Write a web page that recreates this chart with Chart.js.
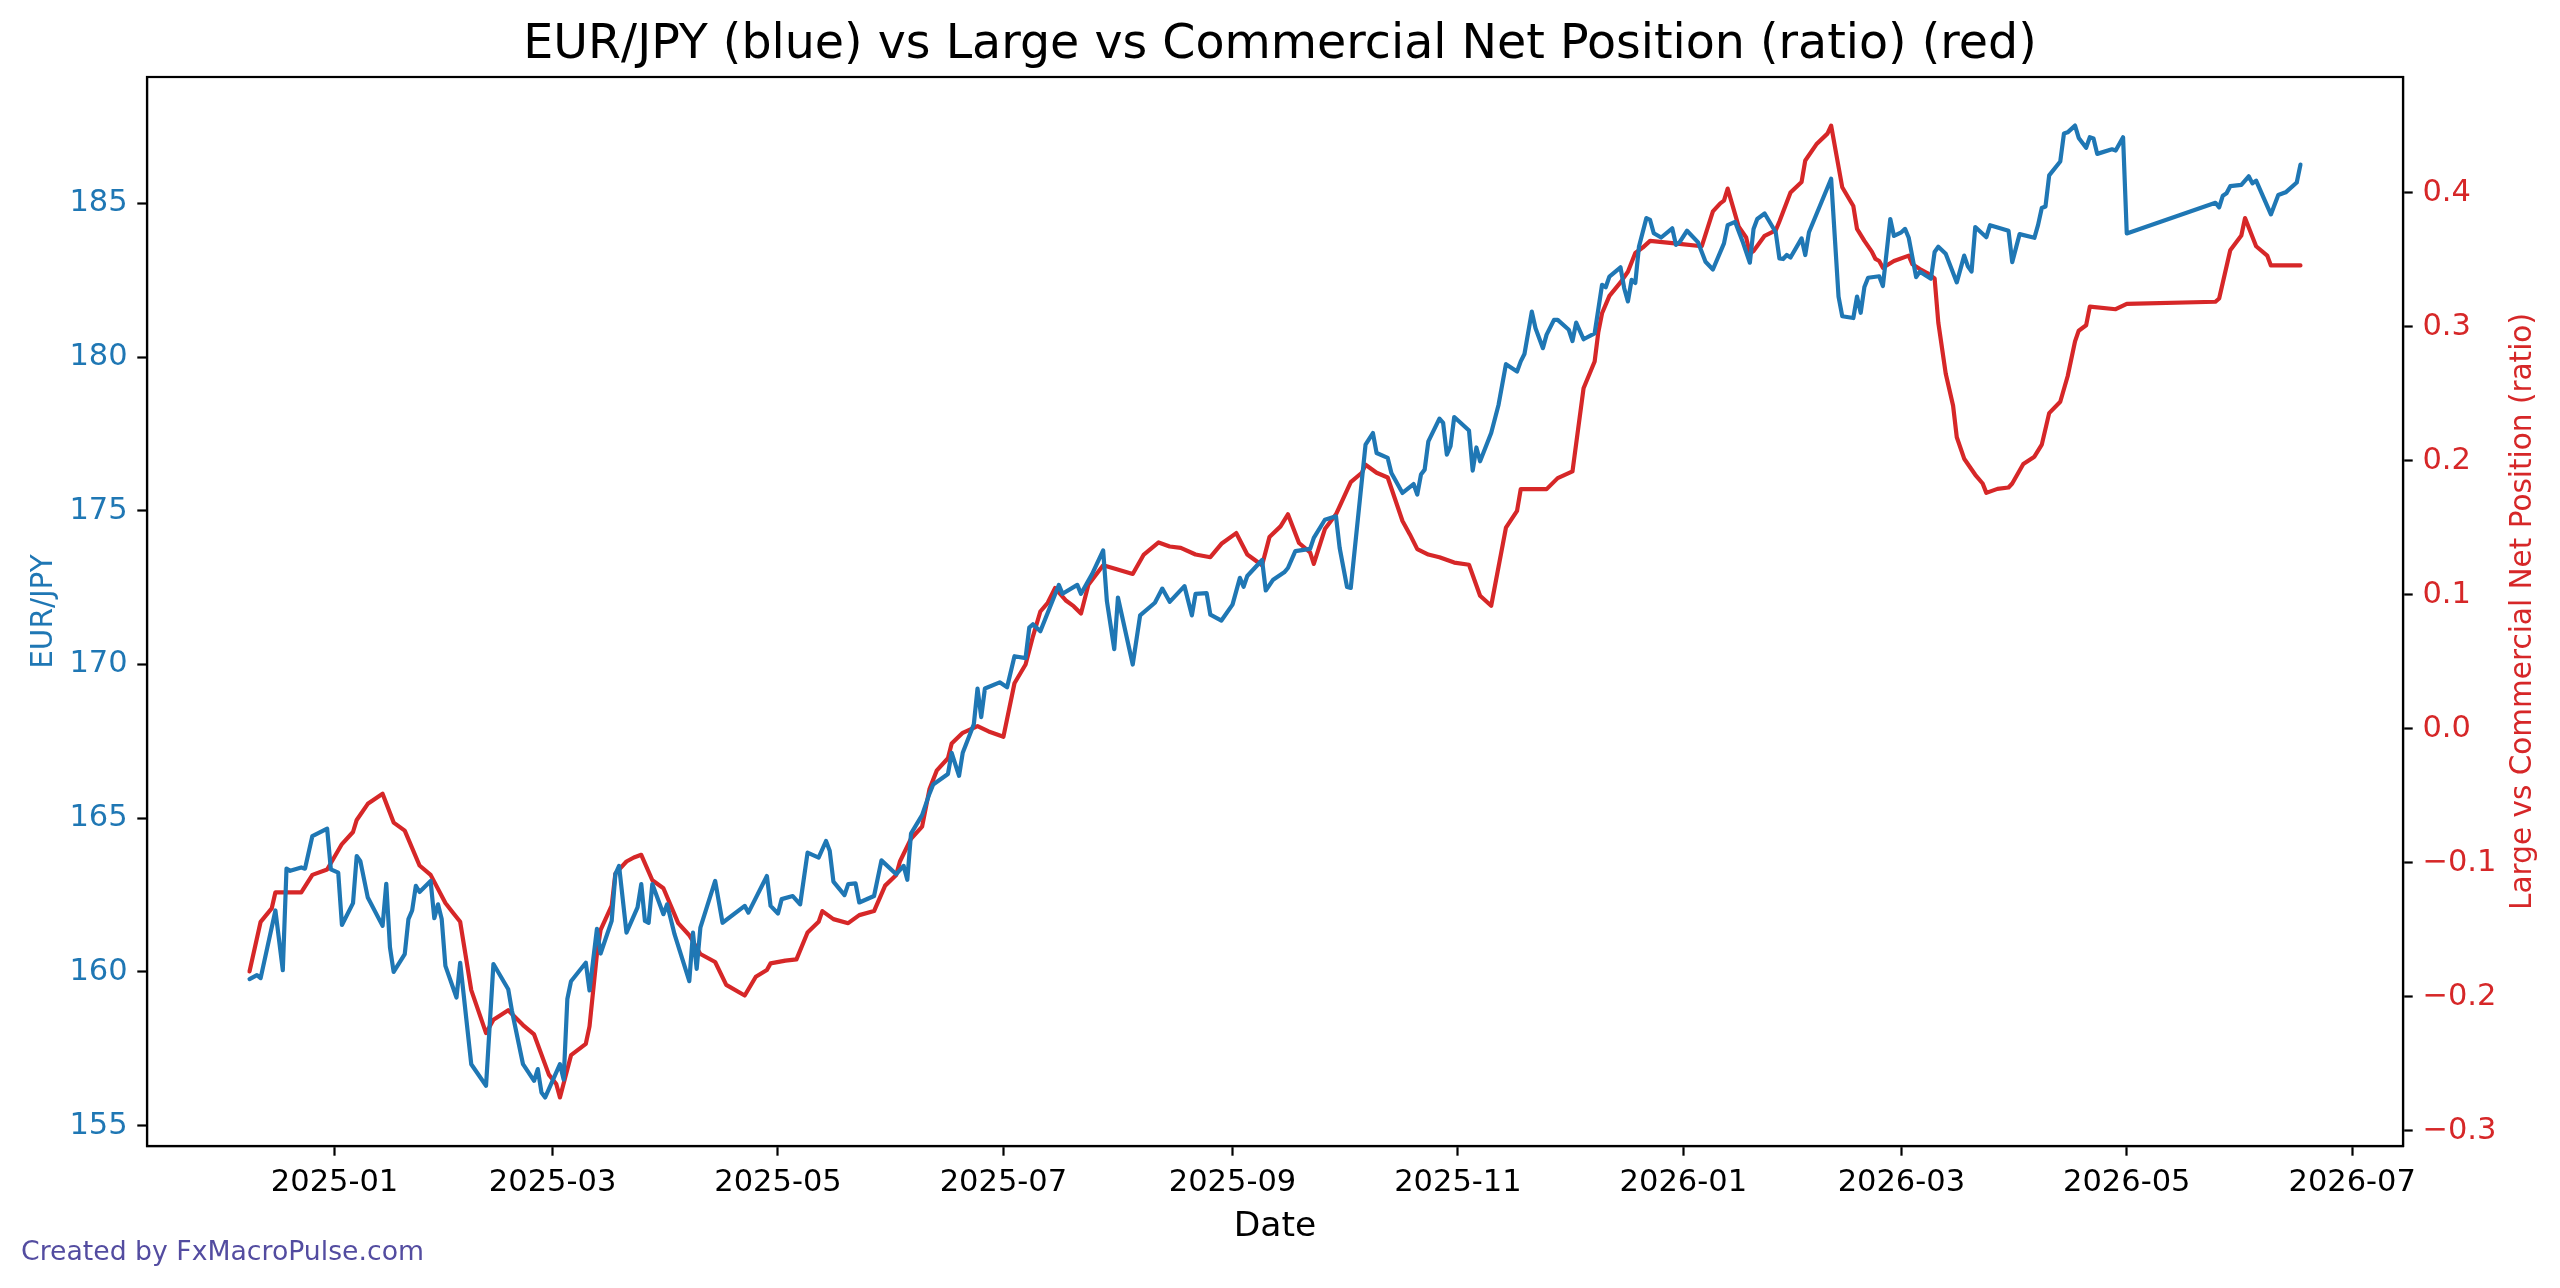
<!DOCTYPE html>
<html>
<head>
<meta charset="utf-8">
<script src="https://cdn.jsdelivr.net/npm/chart.js@4.4.1/dist/chart.umd.min.js"></script>
<style>
html,body{margin:0;padding:0;background:#fff;overflow:hidden;}
canvas{display:block;}
</style>
</head>
<body>
<canvas id="c" width="2560" height="1288"></canvas>
<script>
// ---------- DATA ----------
const chartTitle = 'EUR/JPY (blue) vs Large vs Commercial Net Position (ratio) (red)';
const xAxisTitle = 'Date';
const leftAxisTitle = 'EUR/JPY';
const rightAxisTitle = 'Large vs Commercial Net Position (ratio)';
const watermark = 'Created by FxMacroPulse.com';

const xTickLabels = ['2025-01','2025-03','2025-05','2025-07','2025-09','2025-11','2026-01','2026-03','2026-05','2026-07'];
const leftTicks = [155,160,165,170,175,180,185];
const rightTicks = [-0.3,-0.2,-0.1,0.0,0.1,0.2,0.3,0.4];

const blueDates = [
'2024-12-09','2024-12-11','2024-12-12','2024-12-16','2024-12-18','2024-12-19','2024-12-20','2024-12-23','2024-12-24','2024-12-26',
'2024-12-30','2024-12-31','2025-01-02','2025-01-03','2025-01-06','2025-01-07','2025-01-08','2025-01-10','2025-01-14','2025-01-15',
'2025-01-16','2025-01-17','2025-01-20','2025-01-21','2025-01-22','2025-01-23','2025-01-24','2025-01-27','2025-01-28','2025-01-29',
'2025-01-30','2025-01-31','2025-02-03','2025-02-04','2025-02-07','2025-02-11','2025-02-13','2025-02-17','2025-02-18','2025-02-21',
'2025-02-24','2025-02-25','2025-02-26','2025-02-27','2025-03-03','2025-03-04','2025-03-05','2025-03-06','2025-03-10','2025-03-11',
'2025-03-13','2025-03-14','2025-03-17','2025-03-18','2025-03-19','2025-03-21','2025-03-24','2025-03-25','2025-03-26','2025-03-27',
'2025-03-28','2025-03-31','2025-04-01','2025-04-03','2025-04-07','2025-04-08','2025-04-09','2025-04-10','2025-04-14','2025-04-16',
'2025-04-22','2025-04-23','2025-04-28','2025-04-29','2025-05-01','2025-05-02','2025-05-05','2025-05-07','2025-05-09','2025-05-12',
'2025-05-14','2025-05-15','2025-05-16','2025-05-19','2025-05-20','2025-05-22','2025-05-23','2025-05-27','2025-05-29','2025-06-02',
'2025-06-04','2025-06-05','2025-06-06','2025-06-09','2025-06-11','2025-06-12','2025-06-16','2025-06-17','2025-06-19','2025-06-20',
'2025-06-23','2025-06-24','2025-06-25','2025-06-26','2025-06-30','2025-07-02','2025-07-04','2025-07-07','2025-07-08','2025-07-09',
'2025-07-11','2025-07-16','2025-07-17','2025-07-21','2025-07-22','2025-07-25','2025-07-28','2025-07-29','2025-07-31','2025-08-01',
'2025-08-05','2025-08-07','2025-08-11','2025-08-13','2025-08-15','2025-08-19','2025-08-21','2025-08-22','2025-08-25','2025-08-26',
'2025-08-29','2025-09-01','2025-09-03','2025-09-04','2025-09-05','2025-09-09','2025-09-10','2025-09-12','2025-09-15','2025-09-16',
'2025-09-18','2025-09-22','2025-09-23','2025-09-26','2025-09-29','2025-09-30','2025-10-02','2025-10-03','2025-10-07','2025-10-09',
'2025-10-10','2025-10-13','2025-10-14','2025-10-17','2025-10-20','2025-10-21','2025-10-22','2025-10-23','2025-10-24','2025-10-27',
'2025-10-28','2025-10-29','2025-10-30','2025-10-31','2025-11-04','2025-11-05','2025-11-06','2025-11-07','2025-11-10','2025-11-12',
'2025-11-14','2025-11-17','2025-11-18','2025-11-19','2025-11-21','2025-11-22','2025-11-24','2025-11-25','2025-11-27','2025-11-28',
'2025-12-01','2025-12-02','2025-12-03','2025-12-05','2025-12-08','2025-12-10','2025-12-11','2025-12-12','2025-12-15','2025-12-16',
'2025-12-17','2025-12-18','2025-12-19','2025-12-20','2025-12-22','2025-12-23','2025-12-24','2025-12-26','2025-12-29','2025-12-30',
'2025-12-31','2026-01-02','2026-01-05','2026-01-07','2026-01-09','2026-01-12','2026-01-13','2026-01-15','2026-01-17','2026-01-19',
'2026-01-20','2026-01-21','2026-01-23','2026-01-26','2026-01-27','2026-01-28','2026-01-29','2026-01-30','2026-02-02','2026-02-03',
'2026-02-04','2026-02-10','2026-02-12','2026-02-13','2026-02-16','2026-02-17','2026-02-18','2026-02-19','2026-02-20','2026-02-23',
'2026-02-24','2026-02-26','2026-02-27','2026-03-01','2026-03-02','2026-03-03','2026-03-05','2026-03-06','2026-03-09','2026-03-10',
'2026-03-11','2026-03-13','2026-03-16','2026-03-18','2026-03-19','2026-03-20','2026-03-21','2026-03-24','2026-03-25','2026-03-30',
'2026-03-31','2026-04-02','2026-04-06','2026-04-07','2026-04-08','2026-04-09','2026-04-10','2026-04-13','2026-04-14','2026-04-15',
'2026-04-17','2026-04-18','2026-04-20','2026-04-21','2026-04-22','2026-04-23','2026-04-27','2026-04-28','2026-04-30','2026-05-01',
'2026-05-25','2026-05-26','2026-05-27','2026-05-28','2026-05-29','2026-06-01','2026-06-03','2026-06-04','2026-06-05','2026-06-09',
'2026-06-11','2026-06-13','2026-06-16','2026-06-17'
];
const blueValues = [
159.77,159.90,159.80,162.00,160.06,163.36,163.29,163.40,163.36,164.42,
164.66,163.34,163.23,161.53,162.24,163.77,163.60,162.42,161.50,162.87,
160.80,160.00,160.58,161.72,162.00,162.80,162.60,162.96,161.75,162.20,
161.72,160.20,159.17,160.30,157.00,156.30,160.26,159.44,158.74,157.00,
156.46,156.84,156.08,155.92,157.00,156.50,159.12,159.70,160.30,159.40,
161.40,160.60,161.66,163.18,163.45,161.28,162.10,162.86,161.66,161.60,
162.86,161.88,162.20,161.23,159.70,161.28,160.10,161.44,162.96,161.60,
162.15,161.93,163.12,162.15,161.90,162.37,162.47,162.20,163.88,163.72,
164.26,163.94,162.94,162.50,162.86,162.88,162.26,162.47,163.63,163.18,
163.45,163.00,164.50,165.10,165.80,166.10,166.44,167.13,166.38,167.13,
168.06,169.22,168.29,169.22,169.42,169.26,170.27,170.21,171.20,171.31,
171.08,172.59,172.30,172.59,172.30,172.94,173.71,172.07,170.50,172.18,
170.00,171.60,172.01,172.47,172.04,172.55,171.60,172.30,172.32,171.62,
171.43,171.95,172.82,172.53,172.88,173.40,172.41,172.76,173.00,173.14,
173.69,173.76,174.12,174.71,174.82,173.79,172.52,172.49,177.15,177.53,
176.88,176.72,176.23,175.58,175.87,175.53,176.18,176.34,177.26,178.00,
177.86,176.83,177.10,178.05,177.61,176.31,177.06,176.61,177.53,178.45,
179.77,179.53,179.86,180.10,181.48,180.94,180.29,180.73,181.21,181.21,
180.89,180.52,181.12,180.58,180.77,182.35,182.27,182.62,182.92,182.24,
181.81,182.51,182.41,183.60,184.52,184.46,184.03,183.89,184.19,183.65,
183.74,184.11,183.73,183.10,182.85,183.70,184.29,184.40,183.77,183.07,
184.17,184.49,184.67,184.06,183.21,183.19,183.32,183.24,183.86,183.32,
184.06,185.80,181.97,181.33,181.27,181.97,181.44,182.28,182.58,182.63,
182.31,184.49,183.94,184.06,184.17,183.88,182.60,182.78,182.55,183.42,
183.59,183.36,182.43,183.30,182.95,182.78,184.23,183.90,184.29,184.11,
183.09,184.00,183.88,184.30,184.85,184.90,185.91,186.36,187.27,187.31,
187.53,187.13,186.81,187.15,187.11,186.61,186.76,186.72,187.15,184.02,
185.02,184.87,185.25,185.33,185.56,185.60,185.88,185.65,185.74,184.64,
185.27,185.36,185.68,186.26
];

const redDates = [
'2024-12-09','2024-12-12','2024-12-15','2024-12-16','2024-12-23','2024-12-26','2024-12-30','2025-01-03','2025-01-06','2025-01-07',
'2025-01-10','2025-01-14','2025-01-17','2025-01-20','2025-01-24','2025-01-27','2025-01-31','2025-02-02','2025-02-04','2025-02-07',
'2025-02-09','2025-02-11','2025-02-13','2025-02-17','2025-02-21','2025-02-24','2025-02-28','2025-03-02','2025-03-03','2025-03-06',
'2025-03-10','2025-03-11','2025-03-13','2025-03-14','2025-03-17','2025-03-18','2025-03-21','2025-03-23','2025-03-25','2025-03-28',
'2025-03-31','2025-04-04','2025-04-07','2025-04-10','2025-04-14','2025-04-17','2025-04-22','2025-04-25','2025-04-28','2025-04-29',
'2025-05-03','2025-05-06','2025-05-09','2025-05-12','2025-05-13','2025-05-16','2025-05-20','2025-05-23','2025-05-27','2025-05-30',
'2025-06-02','2025-06-03','2025-06-06','2025-06-09','2025-06-10','2025-06-11','2025-06-13','2025-06-16','2025-06-17','2025-06-20',
'2025-06-24','2025-06-27','2025-07-01','2025-07-04','2025-07-07','2025-07-09','2025-07-11','2025-07-13','2025-07-15','2025-07-18',
'2025-07-20','2025-07-22','2025-07-24','2025-07-28','2025-07-31','2025-08-05','2025-08-08','2025-08-12','2025-08-15','2025-08-18',
'2025-08-22','2025-08-26','2025-08-29','2025-09-02','2025-09-05','2025-09-09','2025-09-11','2025-09-14','2025-09-16','2025-09-19',
'2025-09-22','2025-09-23','2025-09-26','2025-09-29','2025-10-03','2025-10-06','2025-10-07','2025-10-10','2025-10-13','2025-10-17',
'2025-10-19','2025-10-21','2025-10-24','2025-10-27','2025-10-31','2025-11-04','2025-11-07','2025-11-10','2025-11-14','2025-11-17',
'2025-11-18','2025-11-25','2025-11-28','2025-12-02','2025-12-05','2025-12-08','2025-12-09','2025-12-10','2025-12-12','2025-12-15',
'2025-12-17','2025-12-19','2025-12-21','2025-12-23','2025-12-31','2026-01-06','2026-01-09','2026-01-11','2026-01-12','2026-01-13',
'2026-01-16','2026-01-18','2026-01-19','2026-01-20','2026-01-23','2026-01-26','2026-01-27','2026-01-30','2026-02-02','2026-02-03',
'2026-02-06','2026-02-09','2026-02-10','2026-02-13','2026-02-16','2026-02-17','2026-02-19','2026-02-21','2026-02-22','2026-02-23',
'2026-02-24','2026-02-27','2026-03-03','2026-03-04','2026-03-06','2026-03-08','2026-03-10','2026-03-11','2026-03-13','2026-03-15',
'2026-03-16','2026-03-18','2026-03-21','2026-03-23','2026-03-24','2026-03-27','2026-03-30','2026-03-31','2026-04-03','2026-04-06',
'2026-04-08','2026-04-10','2026-04-13','2026-04-15','2026-04-17','2026-04-18','2026-04-20','2026-04-21','2026-04-28','2026-05-01',
'2026-05-25','2026-05-26','2026-05-29','2026-06-01','2026-06-02','2026-06-05','2026-06-08','2026-06-09','2026-06-17'
];
const redValues = [
-0.181,-0.144,-0.134,-0.122,-0.122,-0.109,-0.105,-0.086,-0.077,-0.068,
-0.056,-0.0485,-0.070,-0.076,-0.102,-0.109,-0.130,-0.137,-0.144,-0.195,
-0.211,-0.227,-0.217,-0.210,-0.221,-0.228,-0.258,-0.265,-0.275,-0.2435,
-0.235,-0.222,-0.168,-0.150,-0.132,-0.108,-0.099,-0.096,-0.094,-0.113,
-0.119,-0.145,-0.154,-0.168,-0.174,-0.191,-0.199,-0.185,-0.180,-0.175,
-0.173,-0.172,-0.152,-0.144,-0.136,-0.142,-0.145,-0.139,-0.136,-0.117,
-0.109,-0.099,-0.082,-0.073,-0.059,-0.045,-0.031,-0.022,-0.011,-0.003,
0.002,-0.002,-0.006,0.034,0.048,0.069,0.0875,0.094,0.105,0.0955,
0.0915,0.086,0.1075,0.122,0.1195,0.1155,0.130,0.139,0.136,0.135,
0.130,0.128,0.138,0.146,0.130,0.122,0.143,0.151,0.160,0.1386,
0.1316,0.123,0.149,0.160,0.184,0.191,0.197,0.191,0.1875,0.155,
0.145,0.134,0.130,0.128,0.124,0.1224,0.0993,0.0918,0.150,0.1626,
0.1788,0.1788,0.187,0.192,0.254,0.274,0.296,0.310,0.323,0.333,
0.341,0.355,0.359,0.364,0.3617,0.360,0.386,0.392,0.394,0.403,
0.3745,0.3665,0.3545,0.3564,0.3678,0.3718,0.3785,0.400,0.408,0.424,
0.436,0.444,0.450,0.404,0.390,0.373,0.364,0.356,0.3505,0.349,
0.344,0.349,0.353,0.3465,0.343,0.340,0.336,0.303,0.265,0.241,
0.2175,0.2015,0.1895,0.183,0.176,0.179,0.180,0.183,0.1975,0.203,
0.212,0.2355,0.244,0.263,0.289,0.297,0.301,0.315,0.313,0.317,
0.3186,0.321,0.357,0.368,0.381,0.360,0.353,0.3457,0.3457
];

// ---------- BUILD ----------
const BLUE = '#1f77b4', RED = '#d62728';
const FONT = 'DejaVu Sans';
const toTs = s => { const p = s.split('-').map(Number); return Date.UTC(p[0], p[1]-1, p[2] || 1); };
const bluePts = blueDates.map((d,i) => ({x: toTs(d), y: blueValues[i]}));
const redPts = redDates.map((d,i) => ({x: toTs(d), y: redValues[i]}));
const xTickVals = xTickLabels.map(toTs);

function padRange(vals){ const mn=Math.min(...vals), mx=Math.max(...vals), m=(mx-mn)*0.05; return [mn-m, mx+m]; }
const [xMin, xMax] = padRange([...bluePts, ...redPts].map(p=>p.x));
const [yMin, yMax] = padRange(blueValues);
const [y1Min, y1Max] = padRange(redValues);

const fmtMonth = v => { const d = new Date(v); return d.getUTCFullYear() + '-' + String(d.getUTCMonth()+1).padStart(2,'0'); };

const extras = {
  id: 'extras',
  afterDraw(chart){
    const {ctx, chartArea: a} = chart;
    ctx.save();
    ctx.strokeStyle = '#000'; ctx.lineWidth = 2.2;
    ctx.strokeRect(a.left, a.top, a.right - a.left, a.bottom - a.top);
    // right axis title (reads bottom-to-top)
    ctx.fillStyle = RED;
    ctx.font = '29.5px "' + FONT + '"';
    ctx.textAlign = 'center'; ctx.textBaseline = 'middle';
    ctx.translate(2523, (a.top + a.bottom)/2);
    ctx.rotate(-Math.PI/2);
    ctx.fillText(rightAxisTitle, 0, 0);
    ctx.restore();
    ctx.save();
    ctx.fillStyle = 'rgba(64,56,150,0.9)';
    ctx.font = '26.7px "' + FONT + '"';
    ctx.textAlign = 'left'; ctx.textBaseline = 'middle';
    ctx.fillText(watermark, 21, 1253);
    ctx.restore();
  }
};

Chart.defaults.font.family = FONT;
new Chart(document.getElementById('c').getContext('2d'), {
  type: 'line',
  data: {
    datasets: [
      {label: leftAxisTitle, data: bluePts, borderColor: BLUE, borderWidth: 4.2, pointRadius: 0, tension: 0, fill: false, yAxisID: 'y', borderJoinStyle: 'round', borderCapStyle: 'round'},
      {label: rightAxisTitle, data: redPts, borderColor: RED, borderWidth: 4.2, pointRadius: 0, tension: 0, fill: false, yAxisID: 'y1', borderJoinStyle: 'round', borderCapStyle: 'round'}
    ]
  },
  options: {
    responsive: false, animation: false, devicePixelRatio: 1,
    layout: {padding: 0},
    plugins: {
      legend: {display: false},
      tooltip: {enabled: false},
      title: {display: true, text: chartTitle, color: '#000', font: {family: FONT, size: 47.5, weight: 'normal', lineHeight: 1.2}, padding: {top: 17, bottom: 3}}
    },
    scales: {
      x: {
        type: 'linear', position: 'bottom', min: xMin, max: xMax,
        afterBuildTicks: s => { s.ticks = xTickVals.map(v => ({value: v})); },
        afterFit: s => { s.height = 142; },
        ticks: {autoSkip: false, maxRotation: 0, minRotation: 0, color: '#000', font: {size: 30.5}, padding: 9, callback: v => fmtMonth(v)},
        grid: {drawOnChartArea: false, drawTicks: true, tickLength: 9.7, tickWidth: 2.2, tickColor: '#000'},
        border: {display: true, color: '#000', width: 2.2},
        title: {display: true, text: xAxisTitle, color: '#000', font: {size: 34.5}, padding: {top: 0, bottom: 40}}
      },
      y: {
        type: 'linear', position: 'left', min: yMin, max: yMax,
        afterBuildTicks: s => { s.ticks = leftTicks.map(v => ({value: v})); },
        afterFit: s => { s.width = 147; },
        ticks: {color: BLUE, font: {size: 30.5}, padding: 9.7, callback: v => String(v)},
        grid: {drawOnChartArea: false, drawTicks: true, tickLength: 9.7, tickWidth: 2.2, tickColor: '#000'},
        border: {display: true, color: '#000', width: 2.2},
        title: {display: true, text: leftAxisTitle, color: BLUE, font: {size: 29.5}, padding: {top: 27, bottom: 0}}
      },
      y1: {
        type: 'linear', position: 'right', min: y1Min, max: y1Max,
        afterBuildTicks: s => { s.ticks = rightTicks.map(v => ({value: v})); },
        afterFit: s => { s.width = 157; },
        ticks: {color: RED, font: {size: 30.5}, padding: 9.7, callback: v => v.toFixed(1).replace('-', '\u2212')},
        grid: {drawOnChartArea: false, drawTicks: true, tickLength: 9.7, tickWidth: 2.2, tickColor: '#000'},
        border: {display: true, color: '#000', width: 2.2}
      }
    }
  },
  plugins: [extras]
});
</script>
</body>
</html>
